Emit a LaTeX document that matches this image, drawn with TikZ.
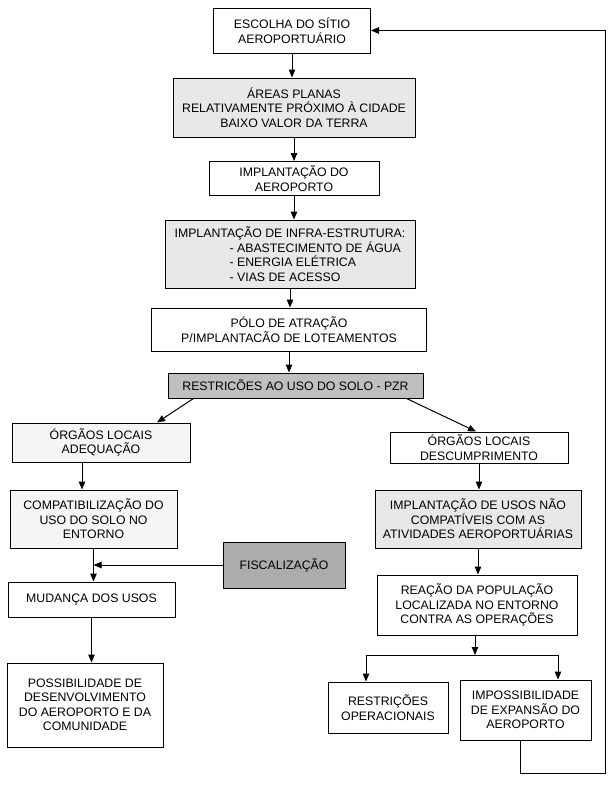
\documentclass[tikz,border=0pt]{standalone}
\usepackage{fontspec}
\setmainfont{Liberation Sans}
\usetikzlibrary{arrows.meta}
\tikzset{
  box/.style={shape=rectangle,draw=black,line width=1pt,align=center,inner sep=1pt,font=\fontsize{12.3}{14.5}\selectfont},
  arr/.style={line width=1pt,-{Triangle[length=8pt,width=6.5pt]}}
}
\begin{document}
\begin{tikzpicture}[x=1pt,y=-1pt]
		\useasboundingbox (0,0) rectangle (613,790);
		
		\node[box,minimum width=157pt,minimum height=45pt] (A) at (292,30.5) {ESCOLHA DO SÍTIO\\AEROPORTUÁRIO};
		\node[box,fill=gray!18,minimum width=242pt,minimum height=59pt] (B) at (294,107.5) {ÁREAS PLANAS\\RELATIVAMENTE PRÓXIMO À CIDADE\\BAIXO VALOR DA TERRA};
		\node[box,minimum width=170pt,minimum height=34pt] (C) at (294,178.5) {IMPLANTAÇÃO DO\\AEROPORTO};
		\node[box,fill=gray!18,minimum width=250pt,minimum height=68pt,align=left] (D) at (290,254) {IMPLANTAÇÃO DE INFRA-ESTRUTURA:\\\hspace*{55pt}- ABASTECIMENTO DE ÁGUA\\\hspace*{55pt}- ENERGIA ELÉTRICA\\\hspace*{55pt}- VIAS DE ACESSO};
		\node[box,minimum width=275pt,minimum height=43pt] (E) at (289,329.5) {PÓLO DE ATRAÇÃO\\P/IMPLANTACÃO DE LOTEAMENTOS};
		\node[box,fill=gray!50,minimum width=255pt,minimum height=25pt] (F) at (295.5,385.5) {RESTRICÕES AO USO DO SOLO - PZR};
		
		\node[box,fill=gray!8,minimum width=178pt,minimum height=39pt] (G) at (101,442.5) {ÓRGÃOS LOCAIS\\ADEQUAÇÃO};
		\node[box,fill=gray!8,minimum width=167pt,minimum height=58pt] (H) at (93.5,519) {COMPATIBILIZAÇÃO DO\\USO DO SOLO NO\\ENTORNO};
		\node[box,fill=gray!65,minimum width=122pt,minimum height=46pt] (I) at (284,565) {FISCALIZAÇÃO};
		\node[box,minimum width=167pt,minimum height=35pt] (J) at (91.5,599.5) {MUDANÇA DOS USOS};
		\node[box,minimum width=156pt,minimum height=84pt] (K) at (85,705) {POSSIBILIDADE DE\\DESENVOLVIMENTO\\DO AEROPORTO E DA\\COMUNIDADE};
		
		\node[box,minimum width=178pt,minimum height=31pt] (L) at (479,447.5) {ÓRGÃOS LOCAIS\\DESCUMPRIMENTO};
		\node[box,fill=gray!18,minimum width=206pt,minimum height=58pt] (M) at (478,519) {IMPLANTAÇÃO DE USOS NÃO\\COMPATÍVEIS COM AS\\ATIVIDADES AEROPORTUÁRIAS};
		\node[box,minimum width=200pt,minimum height=60pt] (N) at (477,605) {REAÇÃO DA POPULAÇÃO\\LOCALIZADA NO ENTORNO\\CONTRA AS OPERAÇÕES};
		\node[box,minimum width=120pt,minimum height=51pt] (O) at (388,707.5) {RESTRIÇÕES\\OPERACIONAIS};
		\node[box,minimum width=131pt,minimum height=60pt] (P) at (525.5,710) {IMPOSSIBILIDADE\\DE EXPANSÃO DO\\AEROPORTO};
		
		\coordinate (S) at (475,655);
		\coordinate (R) at (605,773);
		
		\draw[arr] (A.south) -- (A.south |- B.north);
		\draw[arr] (B.south) -- (B.south |- C.north);
		\draw[arr] (C.south) -- (C.south |- D.north);
		\draw[arr] (D.south) -- (D.south |- E.north);
		\draw[arr] (E.south) -- (E.south |- F.north);
		\draw[arr] ([xshift=-102pt]F.south) -- ([xshift=56pt]G.north);
		\draw[arr] ([xshift=111pt]F.south) -- ([xshift=-3pt]L.north);
		\draw[arr] ([xshift=-19pt]G.south) -- ([xshift=-11.5pt]H.north);
		\draw[arr] (H.south) -- (H.south |- J.north);
		\draw[arr] (I.west) -- (I.west -| H.south);
		\draw[arr] (J.south) -- (J.south |- K.north);
		\draw[arr] (L.south) -- (L.south |- M.north);
		\draw[arr] (M.south) -- (M.south |- N.north);
		\draw[arr] (N.south -| S) -- (S);
		\draw[arr] (S) -| ([xshift=-22pt]O.north);
		\draw[arr] (S) -| ([xshift=32.5pt]P.north);
		\draw[arr] ([xshift=-5pt]P.south) |- (R) |- (A.east);
		
\end{tikzpicture}
\end{document}
